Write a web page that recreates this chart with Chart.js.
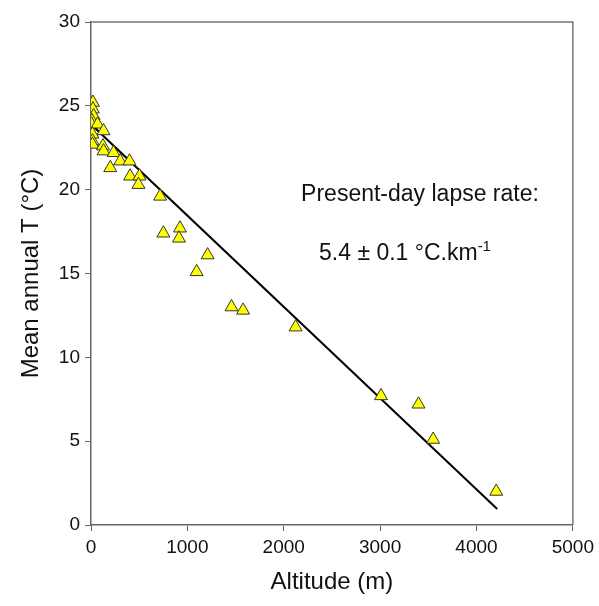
<!DOCTYPE html>
<html>
<head>
<meta charset="utf-8">
<style>
  html, body { margin: 0; padding: 0; background: #fff; }
  #wrap { width: 599px; height: 606px; position: relative; }
</style>
<script src="https://cdn.jsdelivr.net/npm/chart.js@4/dist/chart.umd.min.js"></script>
</head>
<body>
<div id="wrap"><canvas id="lapseChart" width="599" height="606"></canvas></div>
<script>
// ------------------------------------------------------------
// Data: altitude (m) vs mean annual T (°C)
// ------------------------------------------------------------
const altitudes = [
  20, 20, 27, 10, 5, 68, 130, 15, 15, 15, 124, 130, 234, 303, 399, 200,
  406, 503, 492, 717, 751, 923, 913, 1210, 1096, 1458, 1578, 2123,
  3009, 3398, 3550, 4205
];
const meanTemps = [
  25.2, 24.8, 24.4, 24.1, 23.9, 23.9, 23.5, 23.3, 22.9, 22.7, 22.6, 22.3,
  22.2, 21.7, 21.7, 21.3, 20.8, 20.8, 20.3, 19.6, 17.4, 17.7, 17.1, 16.1,
  15.1, 13.0, 12.8, 11.8, 7.7, 7.2, 5.1, 2.0
];

// regression line end points
const fitAltitudes = [0, 4215];
const fitTemps = [23.9, 0.95];

const xTicks = [0, 1000, 2000, 3000, 4000, 5000];
const yTicks = [0, 5, 10, 15, 20, 25, 30];

const FONT = 'Arial, "Liberation Sans", sans-serif';

/**
 * Box frame + lapse-rate annotation
 */
const frameAndNotePlugin = {
  id: 'frameAndNote',
  afterDraw: (chart) => {
    const { ctx, chartArea } = chart;
    ctx.save();
    // top and right frame lines
    ctx.strokeStyle = '#777';
    ctx.lineWidth = 1.5;
    ctx.beginPath();
    ctx.moveTo(chartArea.left, chartArea.top);
    ctx.lineTo(chartArea.right, chartArea.top);
    ctx.lineTo(chartArea.right, chartArea.bottom);
    ctx.stroke();

    // annotation text
    ctx.fillStyle = '#111';
    ctx.textBaseline = 'alphabetic';
    ctx.font = '23px ' + FONT;
    ctx.textAlign = 'center';
    ctx.fillText('Present-day lapse rate:', 420, 201);

    const main = '5.4 ± 0.1 °C.km';
    const sup = '-1';
    ctx.textAlign = 'left';
    const wMain = ctx.measureText(main).width;
    ctx.font = '15px ' + FONT;
    const wSup = ctx.measureText(sup).width;
    const startX = 405 - (wMain + wSup) / 2;
    ctx.font = '23px ' + FONT;
    ctx.fillText(main, startX, 260);
    ctx.font = '15px ' + FONT;
    ctx.fillText(sup, startX + wMain, 251);
    ctx.restore();
  }
};

function initLapseChart() {
  const ctx = document.getElementById('lapseChart');

  new Chart(ctx, {
    type: 'scatter',
    plugins: [frameAndNotePlugin],
    data: {
      datasets: [
        {
          type: 'line',
          label: 'Fit',
          data: fitAltitudes.map((x, i) => ({ x: x, y: fitTemps[i] })),
          borderColor: '#000',
          borderWidth: 2,
          pointRadius: 0,
          fill: false,
          order: 2
        },
        {
          label: 'Stations',
          data: altitudes.map((x, i) => ({ x: x, y: meanTemps[i] })),
          pointStyle: 'triangle',
          pointRadius: 7.5,
          pointBackgroundColor: '#ffff00',
          pointBorderColor: '#333',
          pointBorderWidth: 1,
          order: 1
        }
      ]
    },
    options: {
      responsive: false,
      animation: false,
      layout: { padding: { top: 22, right: 25, left: 0, bottom: 0 } },
      plugins: {
        legend: { display: false },
        tooltip: { enabled: false }
      },
      scales: {
        x: {
          type: 'linear',
          min: 0,
          max: 5000,
          afterBuildTicks: (axis) => { axis.ticks = xTicks.map(v => ({ value: v })); },
          afterFit: (axis) => { axis.height = 81; },
          border: { color: '#666', width: 1.5 },
          grid: { display: true, drawOnChartArea: false, drawTicks: true, tickLength: 6, color: '#666' },
          ticks: {
            color: '#111',
            font: { family: FONT, size: 19 },
            padding: 5,
            maxRotation: 0,
            callback: (v) => String(v)
          },
          title: {
            display: true,
            text: 'Altitude (m)',
            color: '#111',
            font: { family: FONT, size: 24 },
            padding: { top: 0, bottom: 9 }
          }
        },
        y: {
          type: 'linear',
          min: 0,
          max: 30,
          afterBuildTicks: (axis) => { axis.ticks = yTicks.map(v => ({ value: v })); },
          afterFit: (axis) => { axis.width = 91; },
          border: { color: '#666', width: 1.5 },
          grid: { display: true, drawOnChartArea: false, drawTicks: true, tickLength: 6, color: '#666' },
          ticks: {
            color: '#111',
            font: { family: FONT, size: 19 },
            padding: 5,
            callback: (v) => String(v)
          },
          title: {
            display: true,
            text: 'Mean annual T (°C)',
            color: '#111',
            font: { family: FONT, size: 24 },
            padding: { top: 17, bottom: 0 }
          }
        }
      }
    }
  });
}

document.addEventListener('DOMContentLoaded', initLapseChart);
</script>
</body>
</html>
